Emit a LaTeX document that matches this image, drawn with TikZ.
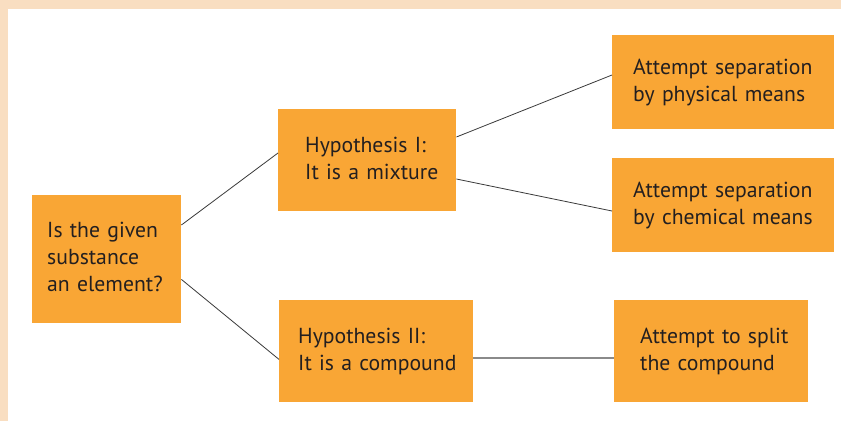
\documentclass[tikz,border=0pt]{standalone}
\usepackage{fontspec}
\setmainfont{PT Sans}
\definecolor{boxorange}{HTML}{F9A635}
\definecolor{peach}{HTML}{F9DEC1}
\definecolor{ink}{HTML}{231F20}
\definecolor{linkdark}{HTML}{3A3A3A}
\definecolor{linkgray}{HTML}{8A8A8A}
\tikzset{
  obox/.style={fill=boxorange, draw=none, anchor=north west,
    font=\fontsize{21.7}{27}\selectfont, text=ink, inner ysep=0pt},
  link/.style={draw=linkdark, line width=0.8pt},
}
\newcommand{\mybox}[7]{% name, x, y, w, h, xsep, text
  \node[obox, minimum width=#4pt, minimum height=#5pt, inner xsep=#6pt,
        text width=\dimexpr #4pt-2\dimexpr #6pt\relax\relax] (#1) at (#2,#3)
        {\begin{tabular}{@{}l@{}}#7\end{tabular}};}
\begin{document}
\begin{tikzpicture}[x=1pt,y=-1pt]
\useasboundingbox (0,0) rectangle (841,421);
\fill[white] (0,0) rectangle (841,421);
\fill[peach] (0,0) rectangle (841,9);
\fill[peach] (0,0) rectangle (8,421);
\renewcommand{\arraystretch}{1}
\mybox{q}{32}{195}{149}{128}{15}{Is the given\\substance\\an element?}
\mybox{h1}{278}{109}{178}{102}{27}{Hypothesis I:\\It is a mixture}
\mybox{h2}{279}{300}{194}{102}{19}{Hypothesis II:\\It is a compound}
\mybox{p}{612}{35}{222}{94}{21}{Attempt separation\\by physical means}
\mybox{c}{612}{158}{222}{94}{21}{Attempt separation\\by chemical means}
\mybox{s}{614}{300}{194}{102}{26}{Attempt to split\\the compound}
\draw[link] ([yshift=-30pt]q.north east) -- ([yshift=-44pt]h1.north west);
\draw[link] ([yshift=44pt]q.south east) -- ([yshift=43pt]h2.south west);
\draw[link] ([yshift=-28pt]h1.north east) -- ([yshift=-40pt]p.north west);
\draw[link] ([yshift=-70pt]h1.north east) -- ([yshift=-53pt]c.north west);
\draw[draw=linkgray, line width=1.2pt] ([yshift=-58pt]h2.north east) -- ([yshift=-58pt]s.north west);
\end{tikzpicture}
\end{document}
